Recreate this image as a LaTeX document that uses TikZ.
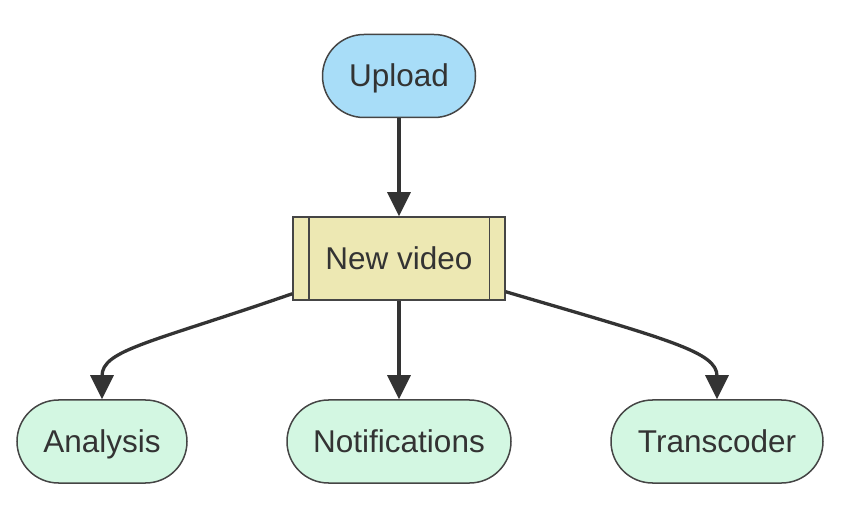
\documentclass[tikz,border=0pt]{standalone}
\usepackage{fontspec}
\setmainfont{Liberation Sans}
\usetikzlibrary{arrows.meta,calc}
\definecolor{txt}{HTML}{333333}
\definecolor{bord}{HTML}{454545}
\definecolor{edgec}{HTML}{333333}
\definecolor{bluef}{HTML}{A8DDF8}
\definecolor{greenf}{HTML}{D3F7E2}
\definecolor{yellowf}{HTML}{EDE8B3}
\tikzset{
  lbl/.style={text=txt, font=\fontsize{31.5}{38}\selectfont, text height=28.5pt, text depth=6.7pt},
  stadium/.style={lbl, draw=bord, line width=1.5pt, rounded corners=41.5pt, minimum height=83pt, inner sep=0pt},
  subr/.style={lbl, draw=bord, line width=1.5pt, minimum height=83pt, inner sep=0pt, fill=yellowf},
  conn/.style={draw=edgec, line width=3.3pt, -{Triangle[length=24pt,width=23pt]}},
}
\begin{document}
\begin{tikzpicture}[x=1pt,y=-1pt]
\useasboundingbox (0,0) rectangle (846,518);
\node[stadium, fill=bluef, minimum width=153pt] (up) at (399,76) {Upload};
\node[subr, minimum width=212pt] (nv) at (399,258.5) {New video};
\draw[bord, line width=1.5pt] ($(nv.north west)+(16.5,0)$) -- ($(nv.south west)+(16.5,0)$);
\draw[bord, line width=1.5pt] ($(nv.north east)+(-16.5,0)$) -- ($(nv.south east)+(-16.5,0)$);
\node[stadium, fill=greenf, minimum width=170pt] (an) at (102,441.5) {Analysis};
\node[stadium, fill=greenf, minimum width=224pt] (no) at (399,441.5) {Notifications};
\node[stadium, fill=greenf, minimum width=212pt] (tr) at (717,441.5) {Transcoder};
\draw[conn] (up) -- (nv);
\draw[conn] (nv.south) -- (no.north);
\draw[conn] ($(nv.south west)+(0,-7)$) .. controls (150,343) and (102,350) .. (an.north);
\draw[conn] ($(nv.south east)+(0,-9)$) .. controls (670,340) and (717,352) .. (tr.north);
\end{tikzpicture}
\end{document}
